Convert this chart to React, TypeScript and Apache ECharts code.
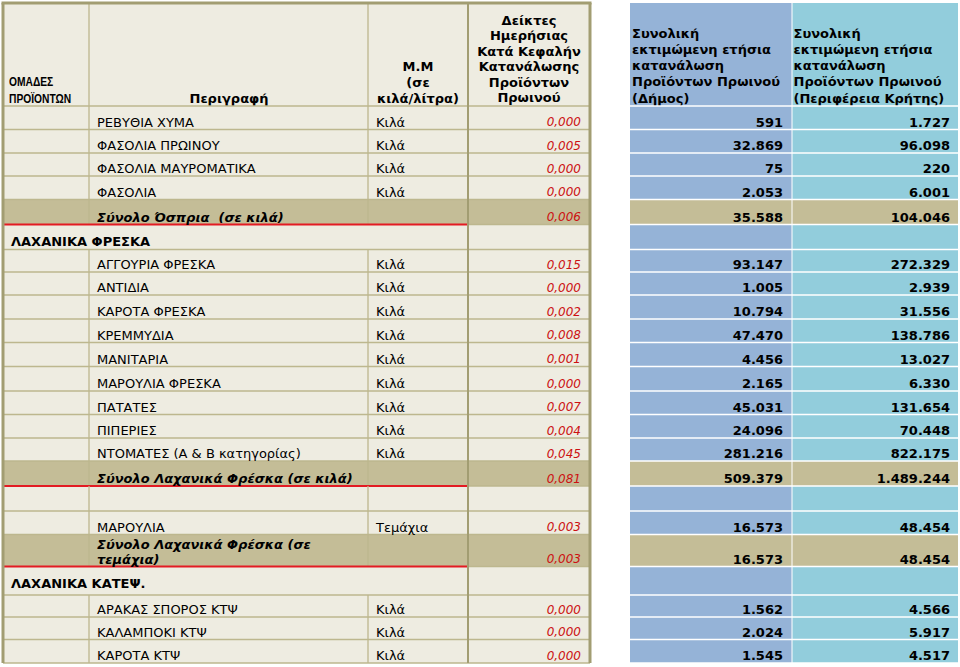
import React, { useEffect, useRef } from "react";
import * as echarts from "echarts";

// ---------------- data ----------------
const headerGroup = ["ΟΜΑΔΕΣ", "ΠΡΟΪΟΝΤΩΝ"];
const headerDescription = ["Περιγραφή"];
const headerUnit = ["Μ.Μ", "(σε", "κιλά/λίτρα)"];
const headerIndex = ["Δείκτες", "Ημερήσιας", "Κατά Κεφαλήν", "Κατανάλωσης", "Προϊόντων", "Πρωινού"];
const headerMunicipality = ["Συνολική", "εκτιμώμενη ετήσια", "κατανάλωση", "Προϊόντων Πρωινού", "(Δήμος)"];
const headerRegion = ["Συνολική", "εκτιμώμενη ετήσια", "κατανάλωση", "Προϊόντων Πρωινού", "(Περιφέρεια Κρήτης)"];

const rowKinds = [
  "item", "item", "item", "item", "total",
  "group", "item", "item", "item", "item", "item", "item", "item", "item", "item", "total",
  "blank", "item", "total2",
  "group", "item", "item", "item",
];
const descriptions = [
  "ΡΕΒΥΘΙΑ ΧΥΜΑ", "ΦΑΣΟΛΙΑ ΠΡΩΙΝΟΥ", "ΦΑΣΟΛΙΑ ΜΑΥΡΟΜΑΤΙΚΑ", "ΦΑΣΟΛΙΑ", "Σύνολο Όσπρια  (σε κιλά)",
  "ΛΑΧΑΝΙΚΑ ΦΡΕΣΚΑ", "ΑΓΓΟΥΡΙΑ ΦΡΕΣΚΑ", "ΑΝΤΙΔΙΑ", "ΚΑΡΟΤΑ ΦΡΕΣΚΑ", "ΚΡΕΜΜΥΔΙΑ", "ΜΑΝΙΤΑΡΙΑ",
  "ΜΑΡΟΥΛΙΑ ΦΡΕΣΚΑ", "ΠΑΤΑΤΕΣ", "ΠΙΠΕΡΙΕΣ", "ΝΤΟΜΑΤΕΣ (Α & Β κατηγορίας)", "Σύνολο Λαχανικά Φρέσκα (σε κιλά)",
  "", "ΜΑΡΟΥΛΙΑ", "Σύνολο Λαχανικά Φρέσκα (σε\nτεμάχια)",
  "ΛΑΧΑΝΙΚΑ ΚΑΤΕΨ.", "ΑΡΑΚΑΣ ΣΠΟΡΟΣ ΚΤΨ", "ΚΑΛΑΜΠΟΚΙ ΚΤΨ", "ΚΑΡΟΤΑ ΚΤΨ",
];
const units = [
  "Κιλά", "Κιλά", "Κιλά", "Κιλά", "",
  "", "Κιλά", "Κιλά", "Κιλά", "Κιλά", "Κιλά", "Κιλά", "Κιλά", "Κιλά", "Κιλά", "",
  "", "Τεμάχια", "",
  "", "Κιλά", "Κιλά", "Κιλά",
];
const dailyIndex: (number | null)[] = [
  0.0, 0.005, 0.0, 0.0, 0.006,
  null, 0.015, 0.0, 0.002, 0.008, 0.001, 0.0, 0.007, 0.004, 0.045, 0.081,
  null, 0.003, 0.003,
  null, 0.0, 0.0, 0.0,
];
const municipalTotals: (number | null)[] = [
  591, 32869, 75, 2053, 35588,
  null, 93147, 1005, 10794, 47470, 4456, 2165, 45031, 24096, 281216, 509379,
  null, 16573, 16573,
  null, 1562, 2024, 1545,
];
const regionTotals: (number | null)[] = [
  1727, 96098, 220, 6001, 104046,
  null, 272329, 2939, 31556, 138786, 13027, 6330, 131654, 70448, 822175, 1489244,
  null, 48454, 48454,
  null, 4566, 5917, 4517,
];

// ---------------- layout & style ----------------
const rowEdges = [106, 129.5, 153, 176, 199.5, 224.5, 249.5, 272, 295, 319, 342.5, 366.5, 391, 414.5, 438, 461, 486, 511, 534.5, 566.5, 595, 617, 639.5, 663];
const X = { left: 3, c1: 89, c2: 368, c3: 468, right: 590, b0: 630, b1: 792, b2: 958 };
const TOP = 3;
const HEAD_BOTTOM = 106;

const FONT = "'DejaVu Sans', Verdana, sans-serif";
const NARROW = "'Liberation Sans', Arial, sans-serif";
const BEIGE = "#EEECE1";
const TAN = "#C4BD97";
const BLUE = "#95B3D7";
const TEAL = "#92CDDC";
const GRIDLINE = "#BDB78E";
const BORDER = "#A29D72";
const RED_LINE = "#E31B23";
const RED_TEXT = "#CC1111";

const fmtIndex = (v: number) => v.toFixed(3).replace(".", ",");
const fmtThousands = (v: number) => String(v).replace(/\B(?=(\d{3})+(?!\d))/g, ".");

function makeHelpers(api: any) {
  const p = (x: number, y: number) => api.coord([x, y]);
  const rect = (x0: number, y0: number, x1: number, y1: number, fill: string) => {
    const a = p(x0, y0);
    const b = p(x1, y1);
    return { type: "rect", shape: { x: a[0], y: a[1], width: b[0] - a[0], height: b[1] - a[1] }, style: { fill } };
  };
  const line = (x0: number, y0: number, x1: number, y1: number, stroke: string, lineWidth: number) => {
    const a = p(x0, y0);
    const b = p(x1, y1);
    return { type: "line", shape: { x1: a[0], y1: a[1], x2: b[0], y2: b[1] }, style: { stroke, lineWidth } };
  };
  const text = (x: number, y: number, str: string, opts: any = {}, extra: any = {}) => {
    const a = p(x, y);
    return {
      type: "text",
      x: a[0],
      y: a[1],
      ...extra,
      style: {
        text: str,
        fontFamily: FONT,
        fontSize: 13,
        fill: "#000",
        align: "left",
        verticalAlign: "middle",
        ...opts,
      },
    };
  };
  return { rect, line, text };
}

function renderHeader(_params: any, api: any) {
  const { rect, line, text } = makeHelpers(api);
  const children: any[] = [];
  children.push(rect(X.left, TOP, X.right, HEAD_BOTTOM, BEIGE));
  children.push(rect(X.b0, TOP, X.b1, HEAD_BOTTOM, BLUE));
  children.push(rect(X.b1, TOP, X.b2, HEAD_BOTTOM, TEAL));
  children.push(line(X.c1, TOP, X.c1, HEAD_BOTTOM, GRIDLINE, 1.3));
  children.push(line(X.c2, TOP, X.c2, HEAD_BOTTOM, GRIDLINE, 1.3));
  children.push(line(X.b1, TOP, X.b1, HEAD_BOTTOM, "#FFFFFF", 1));

  children.push(
    text(9, 90, headerGroup.join("\n"), { fontFamily: NARROW, fontSize: 12.5, fontWeight: "bold", lineHeight: 17 }, { scaleX: 0.82 })
  );
  children.push(text(229, 98, headerDescription.join("\n"), { fontWeight: "bold", align: "center" }));
  children.push(text(418, 82.5, headerUnit.join("\n"), { fontWeight: "bold", align: "center", lineHeight: 16 }));
  children.push(text(529, 59, headerIndex.join("\n"), { fontWeight: "bold", align: "center", lineHeight: 15.5 }));
  children.push(text(X.b0 + 2, 65.5, headerMunicipality.join("\n"), { fontWeight: "bold", lineHeight: 16.25 }));
  children.push(text(X.b1 + 1.5, 65.5, headerRegion.join("\n"), { fontWeight: "bold", lineHeight: 16.25 }));
  return { type: "group", children };
}

function rowBackground(_params: any, api: any) {
  const i = api.value(0) as number;
  const { rect } = makeHelpers(api);
  const kind = rowKinds[i];
  const y0 = rowEdges[i];
  const y1 = rowEdges[i + 1];
  const isTotal = kind === "total" || kind === "total2";
  return {
    type: "group",
    children: [
      rect(X.left, y0, X.right, y1, isTotal ? TAN : BEIGE),
      rect(X.b0, y0, X.b1, y1, isTotal ? TAN : BLUE),
      rect(X.b1, y0, X.b2, y1, isTotal ? TAN : TEAL),
    ],
  };
}

function rowLines(_params: any, api: any) {
  const i = api.value(0) as number;
  const { line } = makeHelpers(api);
  const kind = rowKinds[i];
  const y0 = rowEdges[i];
  const y1 = rowEdges[i + 1];
  const isTotal = kind === "total" || kind === "total2";
  const children: any[] = [];
  if (i === 0) {
    children.push(line(X.left, y0, X.right, y0, GRIDLINE, 1.5));
    children.push(line(X.b0, y0, X.b2, y0, "#FFFFFF", 1.5));
  }
  if (kind !== "group") {
    children.push(line(X.c1, y0, X.c1, y1, GRIDLINE, 1.3));
    children.push(line(X.c2, y0, X.c2, y1, GRIDLINE, 1.3));
  }
  if (isTotal) {
    children.push(line(X.c3, y1, X.right, y1, GRIDLINE, 1.3));
  } else {
    children.push(line(X.left, y1, X.right, y1, GRIDLINE, 1.3));
  }
  children.push(line(X.b1, y0, X.b1, y1, "#FFFFFF", 1));
  children.push(line(X.b0, y1, X.b2, y1, "#FFFFFF", 1.5));
  if (isTotal) {
    children.push(line(X.left, y1, X.c3, y1, RED_LINE, 2.2));
  }
  return { type: "group", children };
}

function rowTexts(_params: any, api: any) {
  const i = api.value(0) as number;
  const { text } = makeHelpers(api);
  const kind = rowKinds[i];
  const y0 = rowEdges[i];
  const y1 = rowEdges[i + 1];
  const isTotal = kind === "total" || kind === "total2";
  const children: any[] = [];
  const ty = y1 - 7.5;
  const desc = descriptions[i];
  if (kind === "group") {
    children.push(text(11, Math.min(ty, y0 + 16.5), desc, { fontWeight: "bold" }));
  } else if (isTotal) {
    const yy = kind === "total2" ? y1 - 14.7 : ty;
    children.push(text(97, yy, desc, { fontWeight: "bold", fontStyle: "italic", lineHeight: 14.5 }));
  } else if (desc) {
    children.push(text(97, ty, desc));
  }
  if (units[i]) children.push(text(376, ty, units[i]));

  const di = dailyIndex[i];
  if (di !== null) {
    children.push(text(581, ty, fmtIndex(di), { fontSize: 12, fontStyle: "italic", fill: RED_TEXT, align: "right" }));
  }
  const mv = municipalTotals[i];
  if (mv !== null) {
    children.push(text(783, ty, fmtThousands(mv), { fontWeight: "bold", align: "right" }));
  }
  const rv = regionTotals[i];
  if (rv !== null) {
    children.push(text(950, ty, fmtThousands(rv), { fontWeight: "bold", align: "right" }));
  }
  return { type: "group", children };
}

function renderFrame(_params: any, api: any) {
  const { line } = makeHelpers(api);
  const bottom = rowEdges[rowEdges.length - 1];
  return {
    type: "group",
    children: [
      line(X.c3, TOP, X.c3, bottom, BORDER, 2),
      line(X.left, TOP, X.left, bottom, BORDER, 3),
      line(X.right, TOP, X.right, bottom, BORDER, 3),
      line(X.left - 1.5, TOP, X.right + 1.5, TOP, BORDER, 3),
    ],
  };
}

export default function App() {
  const ref = useRef<HTMLDivElement>(null);
  useEffect(() => {
    document.body.style.margin = "0";
    if (!ref.current) return;
    const chart = echarts.init(ref.current, undefined, { renderer: "svg" });
    const rowData = rowKinds.map((_, i) => [i]);
    chart.setOption({
      animation: false,
      backgroundColor: "#FFFFFF",
      grid: { left: 0, right: 0, top: 0, bottom: 0 },
      xAxis: { type: "value", min: 0, max: 960, show: false },
      yAxis: { type: "value", min: 0, max: 667, inverse: true, show: false },
      series: [
        { type: "custom", name: "rowBackground", silent: true, z: 1, data: rowData, renderItem: rowBackground },
        { type: "custom", name: "header", silent: true, z: 2, data: [[0]], renderItem: renderHeader },
        { type: "custom", name: "rowLines", silent: true, z: 3, data: rowData, renderItem: rowLines },
        { type: "custom", name: "frame", silent: true, z: 4, data: [[0]], renderItem: renderFrame },
        { type: "custom", name: "rowTexts", silent: true, z: 5, data: rowData, renderItem: rowTexts },
      ],
    });
    return () => chart.dispose();
  }, []);
  return <div ref={ref} style={{ width: 960, height: 667 }} />;
}
